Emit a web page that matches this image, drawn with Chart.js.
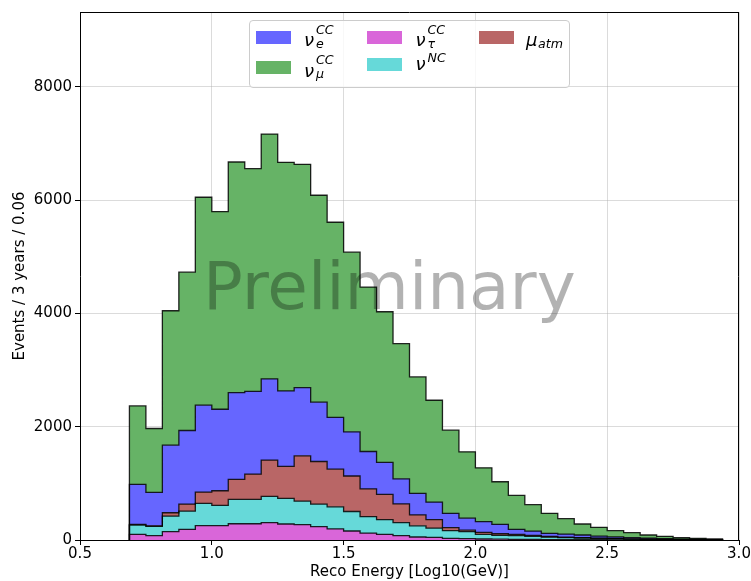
<!DOCTYPE html>
<html><head><meta charset="utf-8">
<script src="https://cdn.jsdelivr.net/npm/chart.js@4.4.0/dist/chart.umd.min.js"></script>
<style>
html,body{margin:0;padding:0;background:#fff;}
#wrap{position:relative;width:751px;height:581px;overflow:hidden;}
#c{position:absolute;left:0;top:0;}
.ov{position:absolute;font-family:"DejaVu Sans";line-height:1;white-space:nowrap;color:#000;}
.it{font-style:italic;}
#prelim{font-size:66px;color:rgba(0,0,0,0.3);left:203px;top:254px;}
#legbox{position:absolute;left:249px;top:20px;width:319px;height:66px;border:1px solid #cccccc;border-radius:4px;background:rgba(255,255,255,0.8);}
.patch{position:absolute;width:35px;height:13px;}
.m{font-size:18px;}
.s{font-size:12.6px;}
</style></head><body>
<div id="wrap">
<canvas id="c" width="751" height="581"></canvas>
<div id="prelim" class="ov">Preliminary</div>
<div id="legbox"></div>
<div class="patch" style="left:256px;top:31px;background:#6666ff"></div>
<div class="patch" style="left:256px;top:61px;background:#66b366"></div>
<div class="patch" style="left:367px;top:31px;background:#d966d9"></div>
<div class="patch" style="left:367px;top:58px;background:#66d9d9"></div>
<div class="patch" style="left:479px;top:31px;background:#b96666"></div>
<!-- nu_e^CC -->
<div class="ov it m" style="left:304px;top:30.8px">ν</div>
<div class="ov it s" style="left:316px;top:24.3px">CC</div>
<div class="ov it s" style="left:316px;top:38px">e</div>
<!-- nu_mu^CC -->
<div class="ov it m" style="left:304px;top:61.8px">ν</div>
<div class="ov it s" style="left:316px;top:54.3px">CC</div>
<div class="ov it s" style="left:316px;top:68.3px">μ</div>
<!-- nu_tau^CC -->
<div class="ov it m" style="left:415.5px;top:30.8px">ν</div>
<div class="ov it s" style="left:427.5px;top:24.3px">CC</div>
<div class="ov it s" style="left:427.5px;top:38px">τ</div>
<!-- nu^NC -->
<div class="ov it m" style="left:415.5px;top:54.8px">ν</div>
<div class="ov it s" style="left:427.5px;top:52.3px">NC</div>
<!-- mu_atm -->
<div class="ov it m" style="left:526px;top:30.8px">μ</div>
<div class="ov it s" style="left:538px;top:38px">atm</div>
</div>
<script>
// bin edges in Log10(GeV)
const binEdges = [0.6875,0.75,0.8125,0.875,0.9375,1.0,1.0625,1.125,1.1875,1.25,1.3125,1.375,1.4375,1.5,1.5625,1.625,1.6875,1.75,1.8125,1.875,1.9375,2.0,2.0625,2.125,2.1875,2.25,2.3125,2.375,2.4375,2.5,2.5625,2.625,2.6875,2.75,2.8125,2.875,2.9375];
const nuTauCC = [100,76,147,188,252,252,287,287,305,282,270,235,195,159,123,100,76,53,45,29,24,18,15,12,10,8,6,5,4,3,2,2,1,1,1,0];
const nuNC    = [164,165,276,323,394,359,430,430,465,452,417,399,390,344,288,258,232,197,165,135,123,82,67,64,55,42,36,30,24,19,15,11,9,6,4,3];
const muAtm   = [11,9,58,123,200,258,352,446,640,564,799,752,665,627,491,447,329,193,150,56,26,35,28,22,15,12,10,7,6,5,4,3,2,2,1,1];
const nuECC   = [706,590,1193,1299,1533,1439,1533,1462,1433,1333,1204,1046,915,779,660,564,443,379,310,250,212,188,166,90,78,55,53,46,36,28,21,16,12,8,6,4];
const nuMuCC  = [1385,1128,2373,2795,3671,3489,4070,3930,4323,4036,3942,3653,3444,3172,2902,2660,2386,2056,1797,1468,1171,951,752,599,465,353,271,194,153,110,87,56,40,24,17,10];
const xTicks = [0.5,1.0,1.5,2.0,2.5,3.0];
const yTicks = [0,2000,4000,6000,8000];

const series = [
  {label:'nu_tau CC', v:nuTauCC, color:'#d966d9'},
  {label:'nu NC', v:nuNC, color:'#66d9d9'},
  {label:'mu atm', v:muAtm, color:'#b96666'},
  {label:'nu_e CC', v:nuECC, color:'#6666ff'},
  {label:'nu_mu CC', v:nuMuCC, color:'#66b366'}
];
const cum = new Array(nuTauCC.length).fill(0);
const datasets = series.map((s, si) => {
  const pts = [{x: binEdges[0], y: 0}];
  for (let k = 0; k < s.v.length; k++) {
    cum[k] += s.v[k];
    pts.push({x: binEdges[k], y: cum[k]});
  }
  const last = binEdges[binEdges.length - 1];
  pts.push({x: last, y: cum[s.v.length - 1]});
  pts.push({x: last, y: 0});
  return {
    label: s.label, data: pts, stepped: true,
    borderColor: 'rgba(0,0,0,0.85)', borderWidth: 1.3,
    backgroundColor: s.color, pointRadius: 0,
    fill: si === 0 ? 'origin' : '-1', tension: 0
  };
});

const frame = {
  id: 'frame',
  afterDraw(chart) {
    const {ctx, chartArea: a} = chart;
    ctx.save();
    ctx.strokeStyle = '#000'; ctx.lineWidth = 1;
    ctx.beginPath();
    const t = Math.round(a.top) + 0.5, r = Math.round(a.right) - 0.5;
    ctx.moveTo(Math.round(a.left), t); ctx.lineTo(r + 0.5, t);
    ctx.moveTo(r, t); ctx.lineTo(r, Math.round(a.bottom));
    ctx.stroke();
    ctx.restore();
  }
};

Chart.defaults.font.family = 'DejaVu Sans';
Chart.defaults.color = '#000';
new Chart(document.getElementById('c'), {
  type: 'line',
  data: {datasets},
  options: {
    responsive: false, animation: false, devicePixelRatio: 1,
    layout: {padding: {left: 0, right: 12, top: 11, bottom: 0}},
    plugins: {legend: {display: false}, tooltip: {enabled: false}, filler: {drawTime: 'beforeDatasetsDraw'}},
    scales: {
      x: {
        type: 'linear', min: 0.5, max: 3.0, z: 1,
        afterFit(s) { s.height = 41; },
        afterBuildTicks(s) { s.ticks = xTicks.map(v => ({value: v})); },
        ticks: {font: {size: 15}, padding: 0, maxRotation: 0, callback: v => Number(v).toFixed(1)},
        grid: {color: 'rgba(176,176,176,0.45)', lineWidth: 1, tickColor: '#000', tickLength: 5},
        border: {color: '#000', width: 1},
        title: {display: true, text: 'Reco Energy [Log10(GeV)]', font: {size: 15}, padding: {top: 0, bottom: 0}}
      },
      y: {
        type: 'linear', min: 0, max: 9320, z: 1,
        afterFit(s) { s.width = 80; },
        afterBuildTicks(s) { s.ticks = yTicks.map(v => ({value: v})); },
        ticks: {font: {size: 15}, padding: 3, includeBounds: false, callback: v => String(v)},
        grid: {color: 'rgba(176,176,176,0.45)', lineWidth: 1, tickColor: '#000', tickLength: 5},
        border: {color: '#000', width: 1},
        title: {display: true, text: 'Events / 3 years / 0.06', font: {size: 15}, padding: {top: 11, bottom: 0}}
      }
    }
  },
  plugins: [frame]
});
</script>
</body></html>
